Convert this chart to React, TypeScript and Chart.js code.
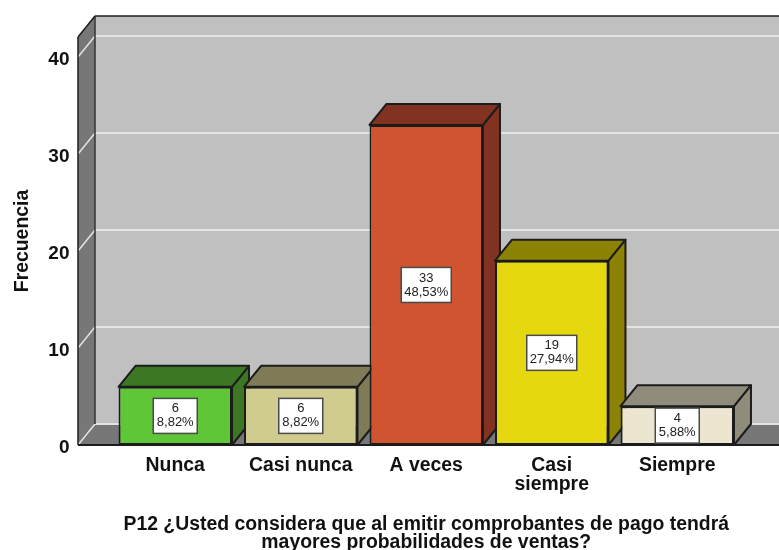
import React, { useEffect, useRef } from "react";
import { Chart, registerables } from "chart.js";

Chart.register(...registerables);

const categories: (string | string[])[] = ["Nunca", "Casi nunca", "A veces", ["Casi", "siempre"], "Siempre"];
const counts = [6, 6, 33, 19, 4];
const percents = ["8,82%", "8,82%", "48,53%", "27,94%", "5,88%"];
const frontColors = ["#5fc637", "#d0cb8e", "#d15431", "#e5d80e", "#ece6d0"];
const sideColors = ["#3c7824", "#807b57", "#823220", "#8b8206", "#908c7c"];
const yTitle = "Frecuencia";
const xTitle = ["P12 ¿Usted considera que al emitir comprobantes de pago tendrá", "mayores probabilidades de ventas?"];

const DX = 17;
const DY = 21;
const WALL_GAP = 34.5;
const OUTLINE = "#1c1c1c";
const FONT = "'Liberation Sans', Arial, sans-serif";

const poly = (ctx: CanvasRenderingContext2D, pts: number[][], fill: string | null, stroke: string | null, lw = 2) => {
  ctx.beginPath();
  pts.forEach(([x, y], i) => (i ? ctx.lineTo(x, y) : ctx.moveTo(x, y)));
  ctx.closePath();
  if (fill) {
    ctx.fillStyle = fill;
    ctx.fill();
  }
  if (stroke) {
    ctx.strokeStyle = stroke;
    ctx.lineWidth = lw;
    ctx.lineJoin = "round";
    ctx.stroke();
  }
};

const line = (ctx: CanvasRenderingContext2D, x1: number, y1: number, x2: number, y2: number, color: string, lw: number) => {
  ctx.beginPath();
  ctx.moveTo(x1, y1);
  ctx.lineTo(x2, y2);
  ctx.strokeStyle = color;
  ctx.lineWidth = lw;
  ctx.stroke();
};

const box3d = {
  id: "box3d",
  beforeDatasetsDraw(chart: any) {
    const { ctx, chartArea, scales } = chart;
    const y = scales.y;
    const left = chartArea.left - WALL_GAP;
    const right = chart.width;
    const top = chartArea.top;
    const bottom = chartArea.bottom;
    ctx.save();
    // walls and floor
    poly(ctx, [[left + DX, top - DY], [right, top - DY], [right, bottom - DY], [left + DX, bottom - DY]], "#c0c0c0", null);
    poly(ctx, [[left, top], [left + DX, top - DY], [left + DX, bottom - DY], [left, bottom]], "#777777", null);
    poly(ctx, [[left, bottom], [left + DX, bottom - DY], [right, bottom - DY], [right, bottom]], "#777777", null);
    // gridlines on the side wall and the back wall
    y.ticks.forEach((t: any) => {
      const py = y.getPixelForValue(t.value);
      line(ctx, left, py, left + DX, py - DY, "#e4e4e4", 1.5);
      line(ctx, left + DX, py - DY, right, py - DY, "#e4e4e4", 2);
    });
    // frame
    line(ctx, left + DX, top - DY, right, top - DY, OUTLINE, 1.5);
    line(ctx, left + DX, top - DY, left + DX, bottom - DY, "#333333", 1.5);
    line(ctx, left, top, left + DX, top - DY, OUTLINE, 1.5);
    line(ctx, left, top, left, bottom, OUTLINE, 1.5);
    line(ctx, left, bottom, right, bottom, OUTLINE, 2);
    // depth faces of the bars
    const meta = chart.getDatasetMeta(0);
    meta.data.forEach((bar: any, i: number) => {
      const l = bar.x - bar.width / 2;
      const r = bar.x + bar.width / 2;
      poly(ctx, [[r, bar.y], [r + DX, bar.y - DY], [r + DX, bar.base - DY], [r, bar.base]], sideColors[i], OUTLINE);
      poly(ctx, [[l, bar.y], [l + DX, bar.y - DY], [r + DX, bar.y - DY], [r, bar.y]], sideColors[i], OUTLINE);
    });
    ctx.restore();
  },
  afterDatasetsDraw(chart: any) {
    const { ctx } = chart;
    const meta = chart.getDatasetMeta(0);
    ctx.save();
    meta.data.forEach((bar: any, i: number) => {
      const cx = bar.x;
      const cy = (bar.y + bar.base) / 2;
      const w = percents[i].length > 5 ? 50 : 44;
      const h = 35;
      ctx.fillStyle = "#ffffff";
      ctx.fillRect(cx - w / 2, cy - h / 2, w, h);
      ctx.strokeStyle = "#4a4a4a";
      ctx.lineWidth = 1.5;
      ctx.strokeRect(cx - w / 2, cy - h / 2, w, h);
      ctx.fillStyle = "#222222";
      ctx.font = `13px ${FONT}`;
      ctx.textAlign = "center";
      ctx.textBaseline = "middle";
      ctx.fillText(String(counts[i]), cx, cy - 7);
      ctx.fillText(percents[i], cx, cy + 7);
    });
    ctx.restore();
  },
};

export default function App() {
  const ref = useRef<HTMLCanvasElement>(null);
  useEffect(() => {
    document.body.style.margin = "0";
    const chart = new Chart(ref.current!, {
      type: "bar",
      data: {
        labels: categories as any,
        datasets: [
          {
            data: counts,
            backgroundColor: frontColors,
            borderColor: OUTLINE,
            borderWidth: 2,
            borderSkipped: false,
            barPercentage: 0.904,
            categoryPercentage: 1,
          },
        ],
      },
      options: {
        responsive: false,
        animation: false,
        events: [],
        layout: { autoPadding: false, padding: { top: 37, right: 39, left: 0, bottom: 0 } },
        plugins: { legend: { display: false }, tooltip: { enabled: false }, title: { display: false } },
        scales: {
          x: {
            grid: { display: false },
            border: { display: false },
            afterFit: (s: any) => {
              s.height = 105;
            },
            ticks: {
              color: "#111111",
              font: { family: FONT, size: 19.4, weight: "bold", lineHeight: 1.0 },
              maxRotation: 0,
              autoSkip: false,
              padding: 3,
            },
            title: {
              display: true,
              text: xTitle,
              color: "#111111",
              font: { family: FONT, size: 19.4, weight: "bold", lineHeight: 0.93 },
              padding: { top: 0, bottom: -2 },
            },
          },
          y: {
            min: 0,
            max: 42.06,
            grid: { display: false, drawTicks: false },
            border: { display: false },
            afterFit: (s: any) => {
              s.width = 112.5;
              s.paddingTop = 0;
              s.paddingBottom = 0;
            },
            ticks: {
              stepSize: 10,
              includeBounds: false,
              color: "#111111",
              font: { family: FONT, size: 19, weight: "bold", lineHeight: "6px" },
              padding: 43,
              callback: (v: any) => ["", String(v)],
            },
            title: {
              display: true,
              text: yTitle,
              color: "#111111",
              font: { family: FONT, size: 19.4, weight: "bold" },
              padding: { top: 11, bottom: 0 },
            },
          },
        },
      },
      plugins: [box3d],
    } as any);
    return () => chart.destroy();
  }, []);
  return <canvas ref={ref} width={779} height={550} style={{ display: "block", width: 779, height: 550 }} />;
}
